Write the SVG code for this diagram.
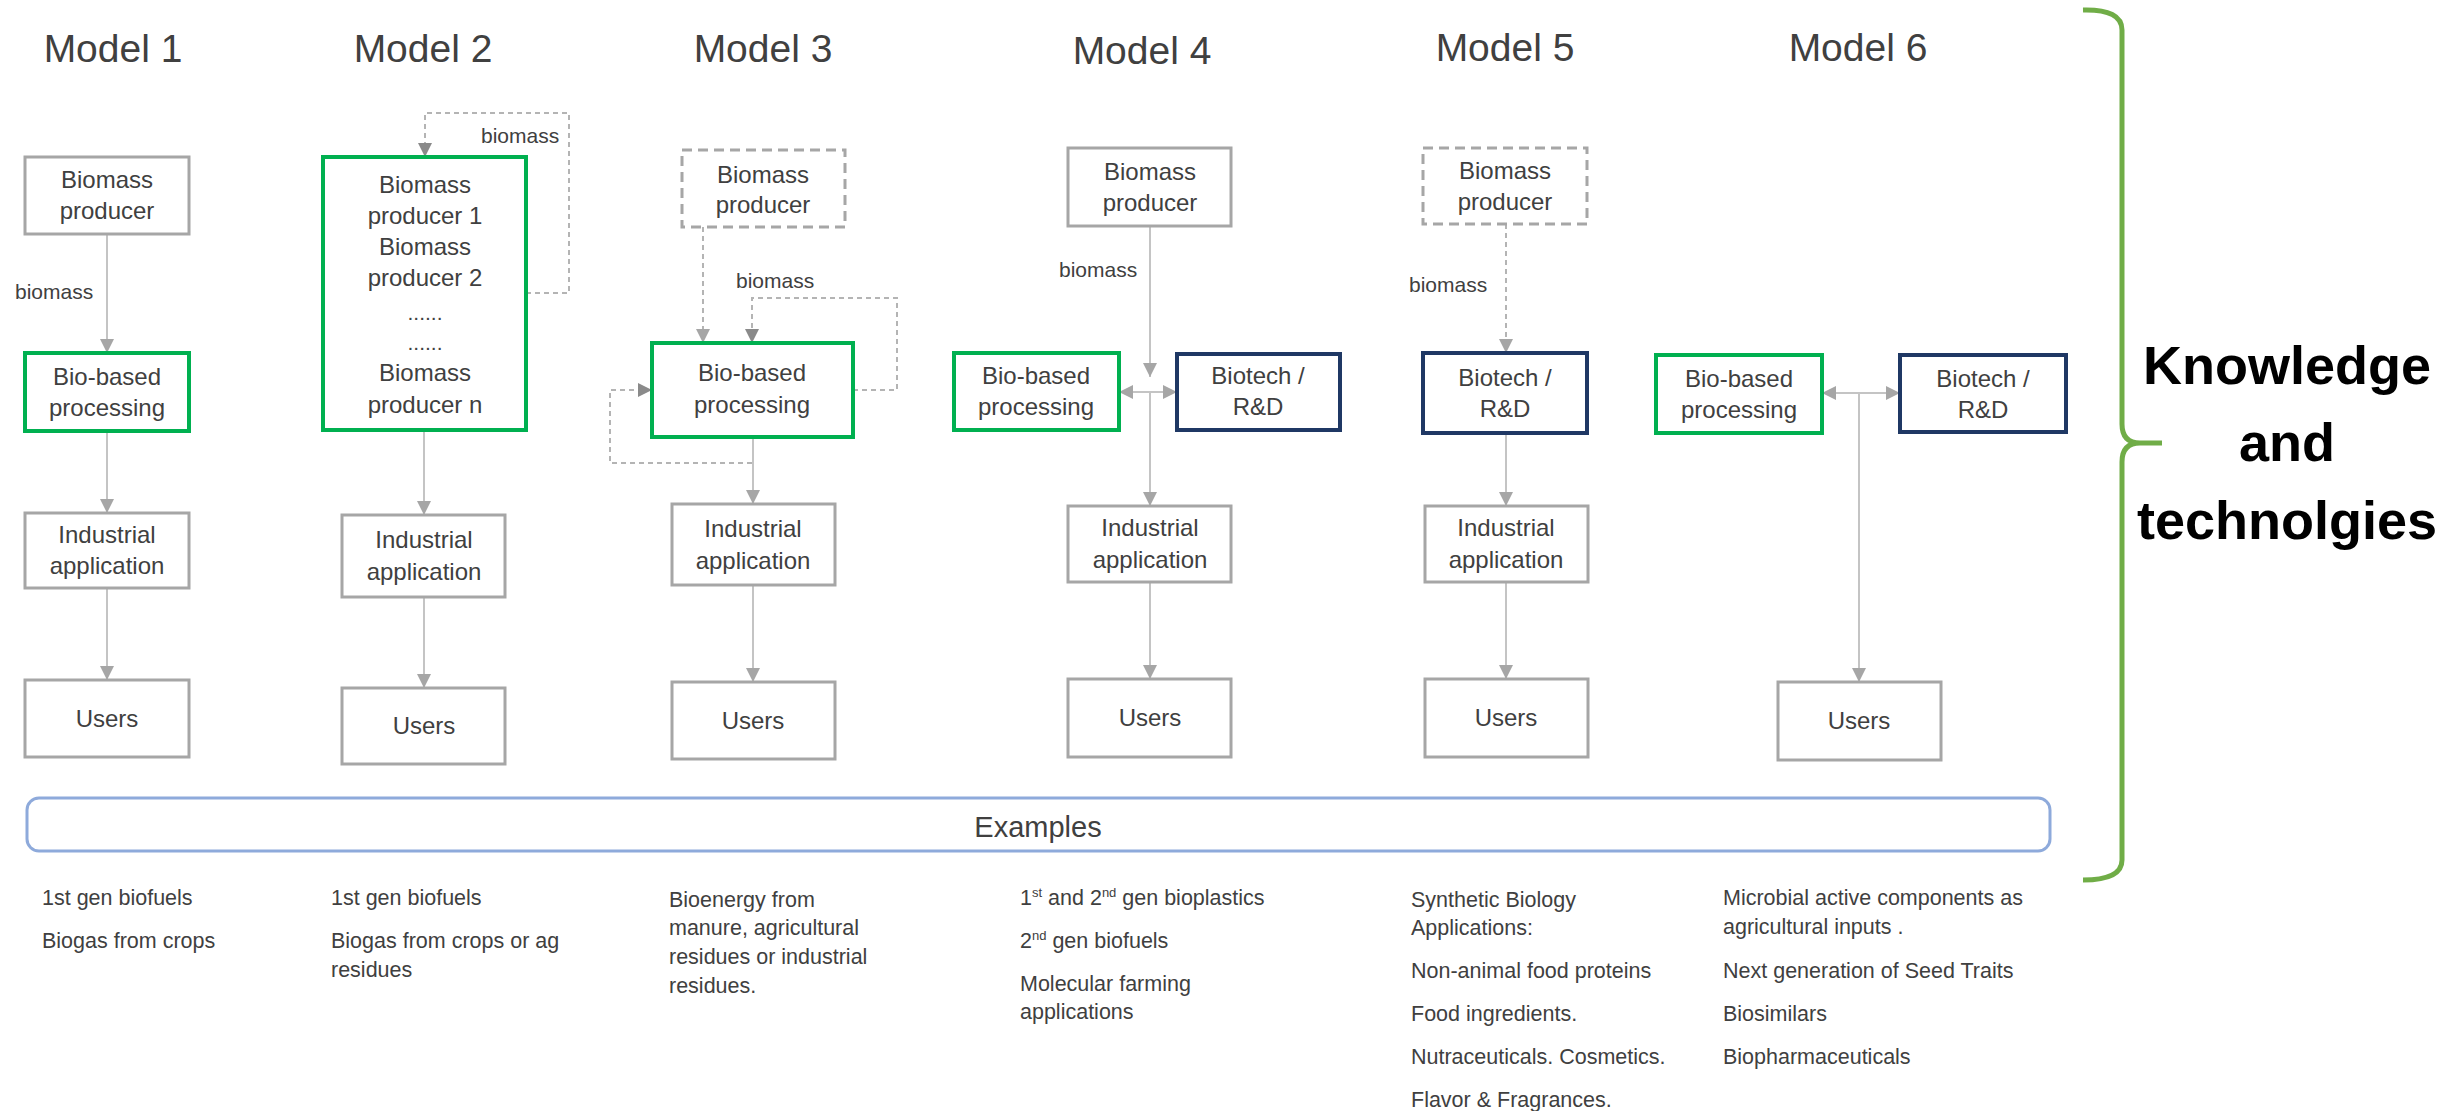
<svg xmlns="http://www.w3.org/2000/svg" width="2458" height="1111" viewBox="0 0 2458 1111">
<defs>
<style>
.t{font-family:"Liberation Sans",Arial,sans-serif;fill:#404040}
.title{font-size:39px;text-anchor:middle}
.nt{font-size:24px;text-anchor:middle}
.lbl{font-size:21px}
.ex{font-size:21.5px}
.box{fill:#fff;stroke:#a6a6a6;stroke-width:3}
.dbox{fill:#fff;stroke:#a6a6a6;stroke-width:3;stroke-dasharray:10 6}
.gbox{fill:#fff;stroke:#00b050;stroke-width:4}
.nbox{fill:#fff;stroke:#1f3864;stroke-width:4}
.conn{stroke:#c4c4c4;stroke-width:2;fill:none}
.dconn{stroke:#b4b4b4;stroke-width:2;stroke-dasharray:5 4;fill:none}
</style>
<marker id="arr" markerUnits="userSpaceOnUse" markerWidth="16" markerHeight="14" refX="14" refY="7" orient="auto-start-reverse">
<path d="M0,0 L14,7 L0,14 Z" fill="#a6a6a6"/>
</marker>
<marker id="arrD" markerUnits="userSpaceOnUse" markerWidth="16" markerHeight="14" refX="14" refY="7" orient="auto-start-reverse">
<path d="M0,0 L14,7 L0,14 Z" fill="#8a8a8a"/>
</marker>
</defs>
<rect width="2458" height="1111" fill="#fff"/>

<g id="titles" class="t title">
<text x="113" y="62">Model 1</text>
<text x="423" y="62">Model 2</text>
<text x="763" y="62">Model 3</text>
<text x="1142" y="64">Model 4</text>
<text x="1505" y="61">Model 5</text>
<text x="1858" y="61">Model 6</text>
</g>

<g id="connectors">
<!-- Model 1 -->
<line class="conn" x1="107" y1="234" x2="107" y2="353" marker-end="url(#arr)"/>
<line class="conn" x1="107" y1="431" x2="107" y2="513" marker-end="url(#arr)"/>
<line class="conn" x1="107" y1="588" x2="107" y2="680" marker-end="url(#arr)"/>
<!-- Model 2 -->
<polyline class="dconn" points="526,293 569,293 569,113 425,113 425,157" marker-end="url(#arrD)"/>
<line class="conn" x1="424" y1="430" x2="424" y2="515" marker-end="url(#arr)"/>
<line class="conn" x1="424" y1="597" x2="424" y2="688" marker-end="url(#arr)"/>
<!-- Model 3 -->
<line class="dconn" x1="703" y1="227" x2="703" y2="343" marker-end="url(#arr)"/>
<polyline class="dconn" points="853,390 897,390 897,298 752,298 752,343" marker-end="url(#arrD)"/>
<polyline class="dconn" points="752,463 610,463 610,390 652,390" marker-end="url(#arrD)"/>
<line class="conn" x1="753" y1="437" x2="753" y2="504" marker-end="url(#arr)"/>
<line class="conn" x1="753" y1="585" x2="753" y2="682" marker-end="url(#arr)"/>
<!-- Model 4 -->
<line class="conn" x1="1150" y1="226" x2="1150" y2="377" marker-end="url(#arr)"/>
<line class="conn" x1="1119" y1="392" x2="1177" y2="392" marker-start="url(#arr)" marker-end="url(#arr)"/>
<line class="conn" x1="1150" y1="392" x2="1150" y2="506" marker-end="url(#arr)"/>
<line class="conn" x1="1150" y1="582" x2="1150" y2="679" marker-end="url(#arr)"/>
<!-- Model 5 -->
<line class="dconn" x1="1506" y1="224" x2="1506" y2="353" marker-end="url(#arr)"/>
<line class="conn" x1="1506" y1="433" x2="1506" y2="506" marker-end="url(#arr)"/>
<line class="conn" x1="1506" y1="582" x2="1506" y2="679" marker-end="url(#arr)"/>
<!-- Model 6 -->
<line class="conn" x1="1822" y1="393" x2="1900" y2="393" marker-start="url(#arr)" marker-end="url(#arr)"/>
<line class="conn" x1="1859" y1="393" x2="1859" y2="682" marker-end="url(#arr)"/>
</g>

<g id="edge-labels" class="t lbl">
<text x="15" y="299">biomass</text>
<text x="481" y="143">biomass</text>
<text x="736" y="288">biomass</text>
<text x="1059" y="277">biomass</text>
<text x="1409" y="292">biomass</text>
</g>

<!-- Model 1 nodes -->
<g id="m1-producer"><rect class="box" x="25" y="157" width="164" height="77"/><text class="t nt" x="107" y="188">Biomass</text><text class="t nt" x="107" y="219">producer</text></g>
<g id="m1-processing"><rect class="gbox" x="25" y="353" width="164" height="78"/><text class="t nt" x="107" y="385">Bio-based</text><text class="t nt" x="107" y="416">processing</text></g>
<g id="m1-industrial"><rect class="box" x="25" y="513" width="164" height="75"/><text class="t nt" x="107" y="543">Industrial</text><text class="t nt" x="107" y="574">application</text></g>
<g id="m1-users"><rect class="box" x="25" y="680" width="164" height="77"/><text class="t nt" x="107" y="727">Users</text></g>

<!-- Model 2 nodes -->
<g id="m2-producers"><rect class="gbox" x="323" y="157" width="203" height="273"/>
<text class="t nt" x="425" y="193">Biomass</text>
<text class="t nt" x="425" y="224">producer 1</text>
<text class="t nt" x="425" y="255">Biomass</text>
<text class="t nt" x="425" y="286">producer 2</text>
<text class="t nt" x="425" y="320" style="font-size:21px">......</text>
<text class="t nt" x="425" y="350" style="font-size:21px">......</text>
<text class="t nt" x="425" y="381">Biomass</text>
<text class="t nt" x="425" y="413">producer n</text>
</g>
<g id="m2-industrial"><rect class="box" x="342" y="515" width="163" height="82"/><text class="t nt" x="424" y="548">Industrial</text><text class="t nt" x="424" y="580">application</text></g>
<g id="m2-users"><rect class="box" x="342" y="688" width="163" height="76"/><text class="t nt" x="424" y="734">Users</text></g>

<!-- Model 3 nodes -->
<g id="m3-producer"><rect class="dbox" x="682" y="150" width="163" height="77"/><text class="t nt" x="763" y="183">Biomass</text><text class="t nt" x="763" y="213">producer</text></g>
<g id="m3-processing"><rect class="gbox" x="652" y="343" width="201" height="94"/><text class="t nt" x="752" y="381">Bio-based</text><text class="t nt" x="752" y="413">processing</text></g>
<g id="m3-industrial"><rect class="box" x="672" y="504" width="163" height="81"/><text class="t nt" x="753" y="537">Industrial</text><text class="t nt" x="753" y="569">application</text></g>
<g id="m3-users"><rect class="box" x="672" y="682" width="163" height="77"/><text class="t nt" x="753" y="729">Users</text></g>

<!-- Model 4 nodes -->
<g id="m4-producer"><rect class="box" x="1068" y="148" width="163" height="78"/><text class="t nt" x="1150" y="180">Biomass</text><text class="t nt" x="1150" y="211">producer</text></g>
<g id="m4-processing"><rect class="gbox" x="954" y="353" width="165" height="77"/><text class="t nt" x="1036" y="384">Bio-based</text><text class="t nt" x="1036" y="415">processing</text></g>
<g id="m4-biotech"><rect class="nbox" x="1177" y="354" width="163" height="76"/><text class="t nt" x="1258" y="384">Biotech /</text><text class="t nt" x="1258" y="415">R&amp;D</text></g>
<g id="m4-industrial"><rect class="box" x="1068" y="506" width="163" height="76"/><text class="t nt" x="1150" y="536">Industrial</text><text class="t nt" x="1150" y="568">application</text></g>
<g id="m4-users"><rect class="box" x="1068" y="679" width="163" height="78"/><text class="t nt" x="1150" y="726">Users</text></g>

<!-- Model 5 nodes -->
<g id="m5-producer"><rect class="dbox" x="1423" y="148" width="164" height="76"/><text class="t nt" x="1505" y="179">Biomass</text><text class="t nt" x="1505" y="210">producer</text></g>
<g id="m5-biotech"><rect class="nbox" x="1423" y="353" width="164" height="80"/><text class="t nt" x="1505" y="386">Biotech /</text><text class="t nt" x="1505" y="417">R&amp;D</text></g>
<g id="m5-industrial"><rect class="box" x="1425" y="506" width="163" height="76"/><text class="t nt" x="1506" y="536">Industrial</text><text class="t nt" x="1506" y="568">application</text></g>
<g id="m5-users"><rect class="box" x="1425" y="679" width="163" height="78"/><text class="t nt" x="1506" y="726">Users</text></g>

<!-- Model 6 nodes -->
<g id="m6-processing"><rect class="gbox" x="1656" y="355" width="166" height="78"/><text class="t nt" x="1739" y="387">Bio-based</text><text class="t nt" x="1739" y="418">processing</text></g>
<g id="m6-biotech"><rect class="nbox" x="1900" y="355" width="166" height="77"/><text class="t nt" x="1983" y="387">Biotech /</text><text class="t nt" x="1983" y="418">R&amp;D</text></g>
<g id="m6-users"><rect class="box" x="1778" y="682" width="163" height="78"/><text class="t nt" x="1859" y="729">Users</text></g>

<!-- Examples bar -->
<g id="examples">
<rect x="27" y="798" width="2023" height="53" rx="12" ry="12" fill="#fff" stroke="#8eaadb" stroke-width="3"/>
<text class="t" x="1038" y="837" style="font-size:29px;text-anchor:middle">Examples</text>
</g>

<g id="example-texts" class="t ex">
<text x="42" y="905">1st gen biofuels</text>
<text x="42" y="948">Biogas from crops</text>

<text x="331" y="905">1st gen biofuels</text>
<text x="331" y="948">Biogas from crops or ag</text>
<text x="331" y="977">residues</text>

<text x="669" y="907">Bioenergy from</text>
<text x="669" y="935">manure, agricultural</text>
<text x="669" y="964">residues or industrial</text>
<text x="669" y="993">residues.</text>

<text x="1020" y="905">1<tspan style="font-size:13px" dy="-8">st</tspan><tspan dy="8"> and 2</tspan><tspan style="font-size:13px" dy="-8">nd</tspan><tspan dy="8"> gen bioplastics</tspan></text>
<text x="1020" y="948">2<tspan style="font-size:13px" dy="-8">nd</tspan><tspan dy="8"> gen biofuels</tspan></text>
<text x="1020" y="991">Molecular farming</text>
<text x="1020" y="1019">applications</text>

<text x="1411" y="907">Synthetic Biology</text>
<text x="1411" y="935">Applications:</text>
<text x="1411" y="978">Non-animal food proteins</text>
<text x="1411" y="1021">Food ingredients.</text>
<text x="1411" y="1064">Nutraceuticals. Cosmetics.</text>
<text x="1411" y="1107">Flavor &amp; Fragrances.</text>

<text x="1723" y="905">Microbial active components as</text>
<text x="1723" y="934">agricultural inputs .</text>
<text x="1723" y="978">Next generation of Seed Traits</text>
<text x="1723" y="1021">Biosimilars</text>
<text x="1723" y="1064">Biopharmaceuticals</text>
</g>

<!-- Brace and label -->
<g id="brace">
<path d="M2083,10 Q2122,9 2122,30 L2122,424 Q2122,443 2140,443 L2162,443 M2140,443 Q2122,443 2122,462 L2122,860 Q2122,880 2083,880" fill="none" stroke="#70ad47" stroke-width="5"/>
</g>
<g id="knowledge" style="font-family:'Liberation Sans',Arial,sans-serif;font-weight:bold;font-size:54px;fill:#000;text-anchor:middle">
<text x="2287" y="384">Knowledge</text>
<text x="2287" y="461">and</text>
<text x="2287" y="539">technolgies</text>
</g>
</svg>
